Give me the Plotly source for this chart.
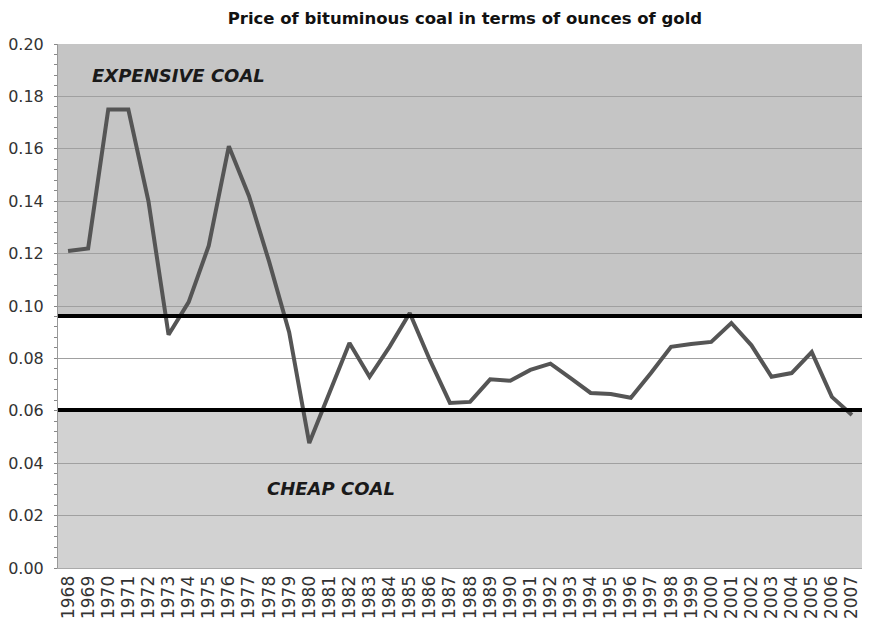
import plotly.graph_objects as go

years = [str(y) for y in range(1968, 2008)]
price = [0.121, 0.122, 0.175, 0.175, 0.140, 0.089, 0.1015, 0.123, 0.161, 0.142,
         0.117, 0.090, 0.0477, 0.067, 0.0859, 0.073, 0.0845, 0.0973, 0.0794, 0.063,
         0.0634, 0.072, 0.0715, 0.0756, 0.078, 0.0725, 0.0668, 0.0664, 0.065, 0.0744,
         0.0844, 0.0855, 0.0863, 0.0935, 0.085, 0.073, 0.0744, 0.0824, 0.0653, 0.0584]
upper_band = 0.0962
lower_band = 0.0603
y_ticks = [0.00, 0.02, 0.04, 0.06, 0.08, 0.10, 0.12, 0.14, 0.16, 0.18, 0.20]

FONT = "DejaVu Sans"

fig = go.Figure()
fig.add_trace(go.Scatter(x=years, y=price, mode="lines",
                         line=dict(color="#555555", width=4), showlegend=False))

fig.add_shape(type="rect", xref="paper", yref="y", x0=0, x1=1, y0=upper_band, y1=0.20,
              fillcolor="#c5c5c5", line_width=0, layer="below")
fig.add_shape(type="rect", xref="paper", yref="y", x0=0, x1=1, y0=lower_band, y1=upper_band,
              fillcolor="#ffffff", line_width=0, layer="below")
for v in (upper_band, lower_band):
    fig.add_shape(type="line", xref="paper", yref="y", x0=0, x1=1, y0=v, y1=v,
                  line=dict(color="#000000", width=4))

fig.add_annotation(text="<b><i>EXPENSIVE COAL</i></b>", xref="x", yref="y",
                   x=5.5, y=0.1878, showarrow=False, xanchor="center",
                   font=dict(family=FONT, size=18, color="#1a1a1a"))
fig.add_annotation(text="<b><i>CHEAP COAL</i></b>", xref="x", yref="y",
                   x=13.1, y=0.0305, showarrow=False, xanchor="center",
                   font=dict(family=FONT, size=18, color="#1a1a1a"))

fig.update_layout(
    width=872, height=624,
    margin=dict(l=50, r=18, t=36, b=64),
    paper_bgcolor="#ffffff", plot_bgcolor="#d2d2d2",
    title=dict(text="<b>Price of bituminous coal in terms of ounces of gold</b>",
               x=0.524, xanchor="center", y=0.984, yanchor="middle",
               font=dict(family=FONT, size=16.5, color="#111111")),
    font=dict(family=FONT, color="#333333"),
)
fig.update_xaxes(type="category", tickangle=-90, tickmode="array", tickvals=years, ticktext=years,
                 tickfont=dict(family=FONT, size=17, color="#333333"), automargin=False,
                 showgrid=False, showline=True, linecolor="#aaaaaa", ticks="", range=[-0.5, 39.5])
fig.update_yaxes(range=[0, 0.20], tickvals=y_ticks, tickformat=".2f",
                 tickfont=dict(family=FONT, size=16, color="#333333"), ticklabelstandoff=10,
                 automargin=False,
                 showgrid=True, gridcolor="#a0a0a0", gridwidth=1,
                 showline=True, linecolor="#999999", zeroline=False,
                 minor=dict(dtick=0.004, ticks="outside", ticklen=3, tickcolor="#888888", showgrid=False))

fig.write_html("out.html")
